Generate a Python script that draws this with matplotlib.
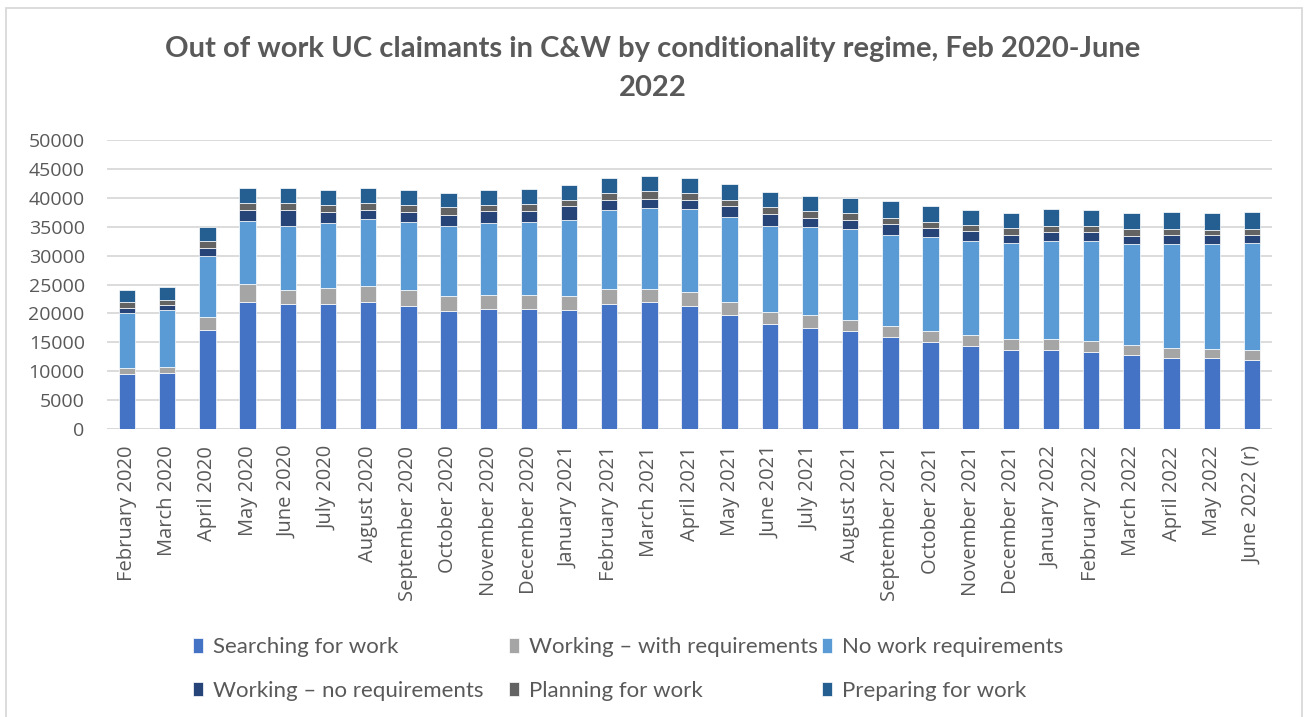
import numpy as np
import matplotlib.pyplot as plt
from matplotlib.patches import Rectangle

months = ["February 2020", "March 2020", "April 2020", "May 2020", "June 2020",
          "July 2020", "August 2020", "September 2020", "October 2020",
          "November 2020", "December 2020", "January 2021", "February 2021",
          "March 2021", "April 2021", "May 2021", "June 2021", "July 2021",
          "August 2021", "September 2021", "October 2021", "November 2021",
          "December 2021", "January 2022", "February 2022", "March 2022",
          "April 2022", "May 2022", "June 2022 (r)"]

searching = [9600, 9700, 17050, 22050, 21550, 21700, 22050, 21350, 20500, 20700,
             20700, 20600, 21700, 21900, 21350, 19800, 18100, 17550, 16900, 15900,
             15000, 14300, 13700, 13750, 13400, 12800, 12300, 12200, 11850]
working_with = [1000, 1050, 2350, 3050, 2500, 2650, 2750, 2650, 2500, 2550,
                2400, 2400, 2550, 2350, 2300, 2150, 2150, 2150, 2000, 1950,
                1950, 1950, 1850, 1800, 1800, 1650, 1650, 1600, 1800]
no_work = [9550, 9900, 10550, 10950, 11100, 11300, 11500, 11800, 12050, 12450,
           12800, 13200, 13600, 14000, 14350, 14650, 14950, 15250, 15650, 15800,
           16200, 16350, 16550, 17000, 17350, 17550, 18050, 18250, 18550]
working_no = [850, 850, 1450, 1900, 2800, 1950, 1600, 1800, 2050, 1950,
              1800, 2400, 1750, 1600, 1550, 1950, 2050, 1600, 1650, 1750,
              1600, 1600, 1550, 1600, 1450, 1450, 1600, 1550, 1450]
planning = [1000, 900, 1100, 1150, 1150, 1200, 1150, 1200, 1250, 1100,
            1200, 1100, 1200, 1250, 1200, 1150, 1100, 1100, 1100, 1100,
            1050, 1050, 1050, 1050, 1050, 1100, 1000, 900, 900]
preparing = [2100, 2200, 2400, 2550, 2550, 2600, 2600, 2550, 2500, 2550,
             2550, 2600, 2600, 2650, 2750, 2700, 2700, 2700, 2750, 2900,
             2800, 2650, 2750, 2800, 2800, 2750, 2900, 2950, 2950]

series = [
    ("Searching for work", searching, "#4472C4"),
    ("Working \u2013 with requirements", working_with, "#A5A5A5"),
    ("No work requirements", no_work, "#5B9BD5"),
    ("Working \u2013 no requirements", working_no, "#264478"),
    ("Planning for work", planning, "#636363"),
    ("Preparing for work", preparing, "#255E91"),
]

fig = plt.figure(figsize=(13.06, 7.17), dpi=100)
ax = fig.add_axes([0.0819, 0.4017, 0.8921, 0.403])

x = np.arange(len(months))
bottom = np.zeros(len(months))
handles = []
for name, vals, col in series:
    vals = np.array(vals)
    b = ax.bar(x, vals, 0.41, bottom=bottom, color=col, edgecolor="white",
               linewidth=0.5, label=name, zorder=3)
    handles.append(b)
    bottom += vals

ax.set_xlim(-0.5, len(months) - 0.5)
ax.set_ylim(0, 50000)
ax.set_yticks(np.arange(0, 50001, 5000))
ax.yaxis.grid(True, color="#D9D9D9", linewidth=1.3, zorder=0)
for s in ax.spines.values():
    s.set_visible(False)
ax.axhline(0, color="#D9D9D9", linewidth=1.3, zorder=1)
ax.set_xticks(x)
ax.set_xticklabels(months, rotation=90, family="Open Sans", fontsize=14.5,
                   color="#595959")
for lab in ax.get_yticklabels():
    lab.set_family("Open Sans")
    lab.set_fontsize(14)
    lab.set_color("#595959")
ax.tick_params(axis="y", length=0, pad=16)
ax.tick_params(axis="x", length=0, pad=12)

fig.text(0.5, 0.932, "Out of work UC claimants in C&W by conditionality regime, Feb 2020-June",
         ha="center", va="center", fontsize=21, fontweight="bold",
         family="Lato", color="#595959")
fig.text(0.5, 0.877, "2022", ha="center", va="center", fontsize=21,
         fontweight="bold", family="Lato", color="#595959")

# legend: three equal-width columns, two rows (row-wise order)
col_x = [193 / 1306, 509 / 1306, 822 / 1306]
for j, cx in enumerate(col_x):
    idx = [j, j + 3]
    leg = fig.legend([handles[i] for i in idx], [series[i][0] for i in idx],
                     loc="center left", bbox_to_anchor=(cx, 0.067),
                     frameon=False, borderpad=0, borderaxespad=0,
                     handlelength=0.45, handleheight=0.6, handletextpad=0.45,
                     labelspacing=1.05, prop={"family": "Lato", "size": 16})
    for t in leg.get_texts():
        t.set_color("#595959")

fig.patches.append(Rectangle((6 / 1306, -0.01), 1296 / 1306, 0.999,
                             transform=fig.transFigure, fill=False,
                             edgecolor="#D9D9D9", linewidth=1.3))

fig.savefig("out.png", dpi=100, facecolor="white")
